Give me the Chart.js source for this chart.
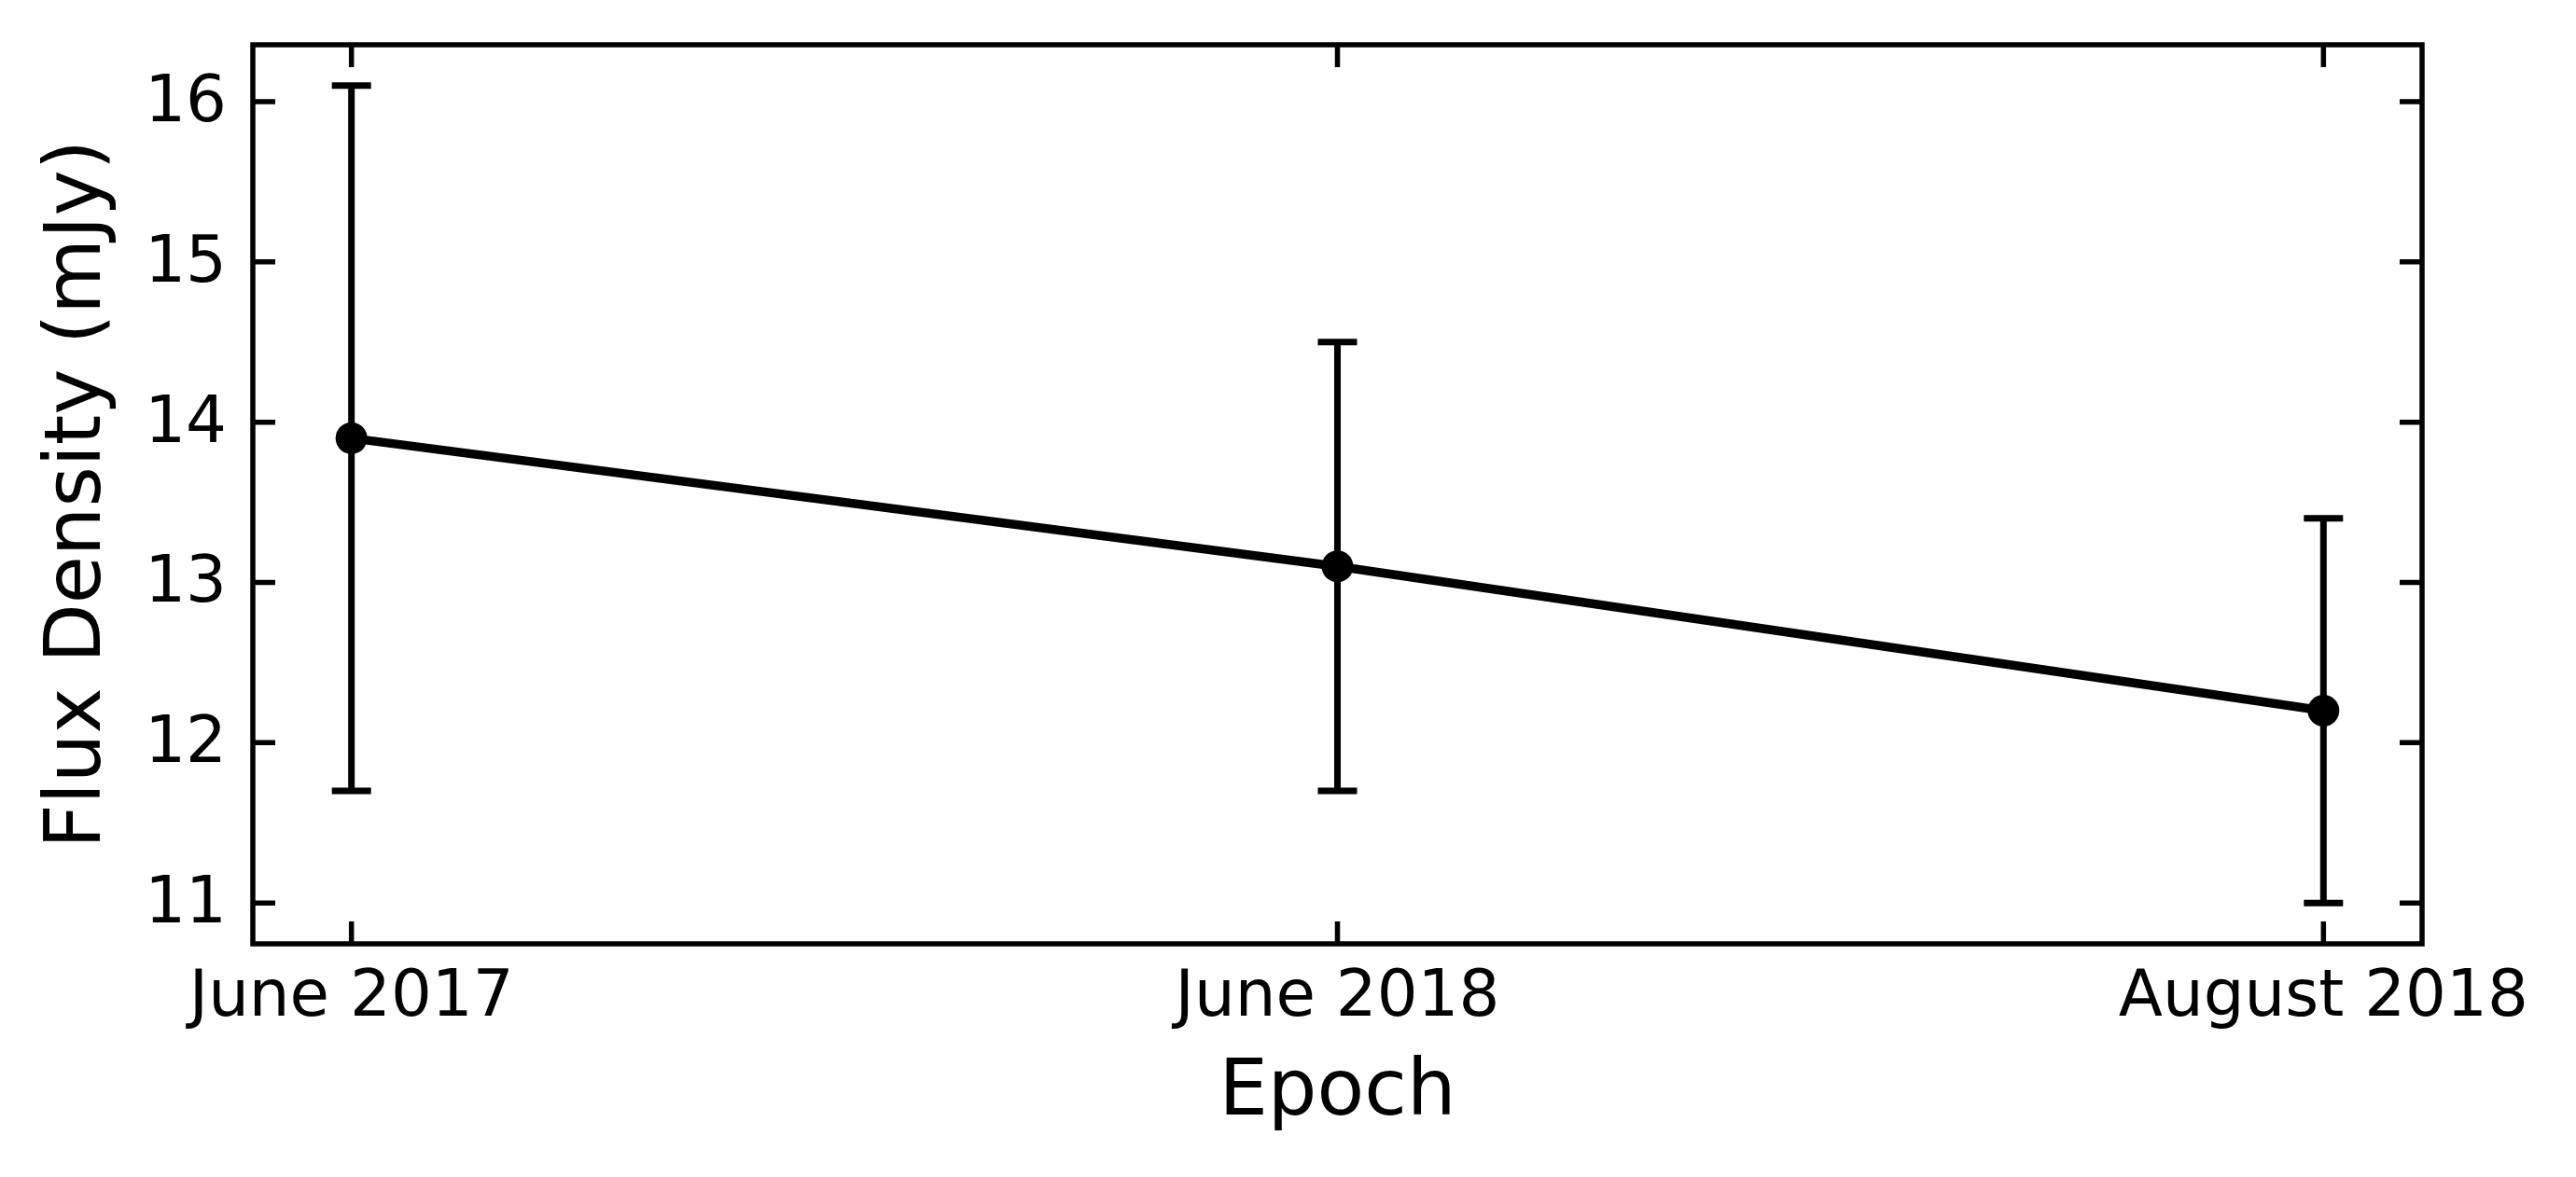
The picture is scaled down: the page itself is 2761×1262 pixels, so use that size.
<!DOCTYPE html>
<html>
<head>
<meta charset="utf-8">
<title>Flux Density vs Epoch</title>
<script src="https://cdn.jsdelivr.net/npm/chart.js@4.4.1/dist/chart.umd.min.js"></script>
<style>
    html, body { margin: 0; padding: 0; background: #ffffff; }
    #wrap { width: 2761px; height: 1262px; }
</style>
</head>
<body>
<div id="wrap"><canvas id="fluxChart" width="2761" height="1262"></canvas></div>
<script>
// データ
const epochs = ['June 2017', 'June 2018', 'August 2018'];
const epochIndex = [0, 1, 2];
const flux = [13.9, 13.1, 12.2];
const fluxErr = [2.2, 1.4, 1.2];
const yTicks = [11, 12, 13, 14, 15, 16];

const FONT = "'DejaVu Sans', sans-serif";

// エラーバー描画プラグイン
const errorBars = {
    id: 'errorBars',
    beforeDatasetsDraw(chart) {
        const ctx = chart.ctx;
        const xs = chart.scales.x;
        const ys = chart.scales.y;
        const cap = 21;
        ctx.save();
        ctx.strokeStyle = '#000';
        ctx.lineWidth = 7;
        ctx.lineCap = 'butt';
        for (let i = 0; i < flux.length; i++) {
            const px = xs.getPixelForValue(epochIndex[i]);
            const yTop = ys.getPixelForValue(flux[i] + fluxErr[i]);
            const yBot = ys.getPixelForValue(flux[i] - fluxErr[i]);
            ctx.beginPath();
            ctx.moveTo(px, yTop);
            ctx.lineTo(px, yBot);
            ctx.moveTo(px - cap, yTop);
            ctx.lineTo(px + cap, yTop);
            ctx.moveTo(px - cap, yBot);
            ctx.lineTo(px + cap, yBot);
            ctx.stroke();
        }
        ctx.restore();
    }
};

// 枠と内向きの目盛り
const frameTicks = {
    id: 'frameTicks',
    afterDraw(chart) {
        const ctx = chart.ctx;
        const a = chart.chartArea;
        const xs = chart.scales.x;
        const ys = chart.scales.y;
        const len = 24;
        ctx.save();
        ctx.strokeStyle = '#000';
        ctx.lineWidth = 5.5;
        ctx.beginPath();
        yTicks.forEach(v => {
            const py = ys.getPixelForValue(v);
            ctx.moveTo(a.left, py);
            ctx.lineTo(a.left + len, py);
            ctx.moveTo(a.right, py);
            ctx.lineTo(a.right - len, py);
        });
        epochIndex.forEach(v => {
            const px = xs.getPixelForValue(v);
            ctx.moveTo(px, a.bottom);
            ctx.lineTo(px, a.bottom - len);
            ctx.moveTo(px, a.top);
            ctx.lineTo(px, a.top + len);
        });
        ctx.stroke();
        ctx.strokeRect(a.left, a.top, a.right - a.left, a.bottom - a.top);
        ctx.restore();
    }
};

function initChart() {
    const canvas = document.getElementById('fluxChart');
    const points = epochIndex.map((x, i) => ({ x: x, y: flux[i] }));

    new Chart(canvas, {
        type: 'line',
        data: {
            datasets: [{
                data: points,
                borderColor: '#000',
                borderWidth: 9.5,
                pointRadius: 17,
                pointBorderWidth: 0,
                pointBackgroundColor: '#000',
                tension: 0,
                fill: false
            }]
        },
        options: {
            responsive: false,
            animation: false,
            devicePixelRatio: 1,
            layout: { padding: { top: 48, right: 165, left: 0, bottom: 0 } },
            plugins: {
                legend: { display: false },
                tooltip: { enabled: false }
            },
            scales: {
                x: {
                    type: 'linear',
                    min: -0.1,
                    max: 2.1,
                    afterBuildTicks: s => { s.ticks = epochIndex.map(v => ({ value: v })); },
                    afterFit: s => { s.height = 250; s.paddingLeft = 0; s.paddingRight = 0; },
                    grid: { display: false, drawTicks: false },
                    border: { display: false },
                    ticks: {
                        color: '#000',
                        padding: 25,
                        maxRotation: 0,
                        autoSkip: false,
                        font: { family: FONT, size: 69, lineHeight: 1 },
                        callback: v => epochs[v]
                    },
                    title: {
                        display: true,
                        text: 'Epoch',
                        color: '#000',
                        padding: { top: 0, bottom: 47 },
                        font: { family: FONT, size: 83, lineHeight: 1 }
                    }
                },
                y: {
                    min: 10.745,
                    max: 16.355,
                    afterBuildTicks: s => { s.ticks = yTicks.map(v => ({ value: v })); },
                    afterFit: s => { s.width = 271; s.paddingTop = 0; s.paddingBottom = 0; },
                    grid: { display: false, drawTicks: false },
                    border: { display: false },
                    ticks: {
                        color: '#000',
                        padding: 28,
                        labelOffset: 3,
                        font: { family: FONT, size: 69, lineHeight: 1 }
                    },
                    title: {
                        display: true,
                        text: 'Flux Density (mJy)',
                        color: '#000',
                        padding: { top: 44, bottom: 0 },
                        font: { family: FONT, size: 83, lineHeight: 1 }
                    }
                }
            }
        },
        plugins: [errorBars, frameTicks]
    });
}

document.addEventListener('DOMContentLoaded', initChart);
</script>
</body>
</html>
